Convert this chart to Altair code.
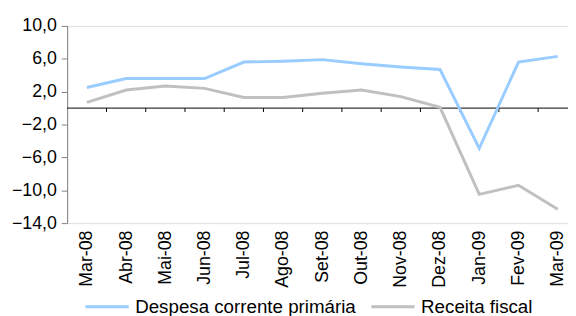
import altair as alt
import pandas as pd

months = ["Mar-08", "Abr-08", "Mai-08", "Jun-08", "Jul-08", "Ago-08", "Set-08",
          "Out-08", "Nov-08", "Dez-08", "Jan-09", "Fev-09", "Mar-09"]
despesa = [2.5, 3.6, 3.6, 3.6, 5.6, 5.7, 5.9, 5.4, 5.0, 4.7, -4.9, 5.6, 6.3]
receita = [0.7, 2.2, 2.7, 2.4, 1.3, 1.3, 1.8, 2.2, 1.4, 0.1, -10.5, -9.4, -12.3]
series = ["Despesa corrente primária", "Receita fiscal"]
colors = ["#99CCFF", "#C0C0C0"]
y_ticks = [-14, -10, -6, -2, 2, 6, 10]

rows = []
for i, m in enumerate(months):
    rows.append({"mes": m, "serie": series[0], "valor": despesa[i]})
    rows.append({"mes": m, "serie": series[1], "valor": receita[i]})
df = pd.DataFrame(rows)
df_m = pd.DataFrame({"mes": months})

FONT = "Liberation Sans"
W, H = 508, 200
step = 39.8

x_scale = alt.Scale(type="point", domain=months, range=[20, 20 + 12 * step], padding=0)
y_scale = alt.Scale(domain=[-14, 10], nice=False, zero=False)

x_axis = alt.Axis(title=None, labelAngle=-90, domain=False, ticks=False,
                  labelFont=FONT, labelFontSize=18, labelColor="black",
                  labelPadding=7, labelOverlap=False)
y_axis = alt.Axis(values=y_ticks, title=None, grid=False, labelOverlap=False,
                  labelExpr="replace(format(datum.value, '.1f'), '.', ',')",
                  domainColor="#808080", tickColor="#808080", tickSize=6,
                  labelFont=FONT, labelFontSize=18, labelColor="black", labelPadding=5)

zero = alt.Chart(pd.DataFrame({"z": [0]})).mark_rule(color="black", strokeWidth=1).encode(
    y=alt.Y("z:Q", scale=y_scale, axis=y_axis)
)

ticks = alt.Chart(df_m).mark_rule(color="black", strokeWidth=1, xOffset=step / 2, y2Offset=4).encode(
    x=alt.X("mes:O", scale=x_scale, axis=x_axis),
    y=alt.YDatum(0, scale=y_scale, axis=y_axis),
    y2=alt.Y2Datum(0),
)

lines = alt.Chart(df).mark_line(strokeWidth=3).encode(
    x=alt.X("mes:O", scale=x_scale, axis=x_axis),
    y=alt.Y("valor:Q", scale=y_scale, axis=y_axis),
    color=alt.Color("serie:N", scale=alt.Scale(domain=series, range=colors),
                    legend=alt.Legend(title=None, orient="none", legendX=17, legendY=261,
                                      direction="horizontal", symbolType="stroke",
                                      symbolSize=1936, symbolStrokeWidth=3,
                                      labelFont=FONT, labelFontSize=19, labelColor="black",
                                      labelLimit=0, columnPadding=9, labelOffset=5)),
)

chart = alt.layer(zero, ticks, lines).properties(
    width=W, height=H,
    autosize=alt.AutoSizeParams(type="none"),
    padding={"left": 60, "top": 16, "right": 0, "bottom": 92},
).configure_view(stroke=None).configure(font=FONT)

chart.save("out.html", embed_options={"renderer": "svg", "actions": False})
